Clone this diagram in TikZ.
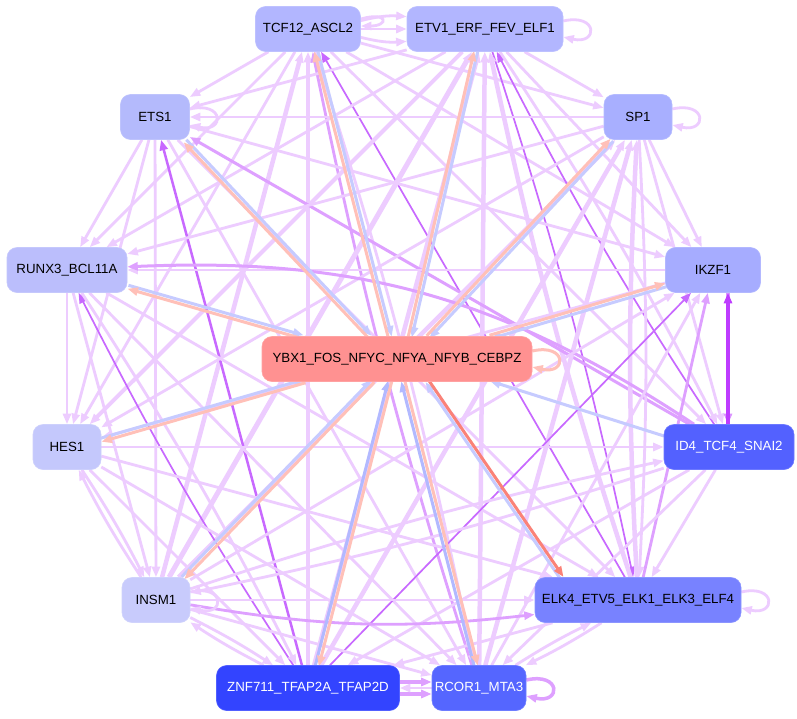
\documentclass[tikz,border=0pt]{standalone}
\usepackage{fontspec}
\setmainfont{Liberation Sans}
\usetikzlibrary{arrows.meta,calc}
\pgfdeclarelayer{bg}
\pgfsetlayers{bg,main}
\definecolor{cT}{RGB}{178,182,255}
\definecolor{cS}{RGB}{180,186,252}
\definecolor{cP}{RGB}{168,175,255}
\definecolor{cR}{RGB}{187,190,252}
\definecolor{cI}{RGB}{166,172,255}
\definecolor{cH}{RGB}{196,200,252}
\definecolor{cD}{RGB}{83,97,255}
\definecolor{cN}{RGB}{200,203,252}
\definecolor{cK}{RGB}{120,130,255}
\definecolor{cZ}{RGB}{51,68,255}
\definecolor{cC}{RGB}{85,102,255}
\definecolor{cY}{RGB}{255,145,145}
\definecolor{cLav}{RGB}{237,204,255}
\definecolor{cPur}{RGB}{222,160,255}
\definecolor{cDPur}{RGB}{200,105,255}
\definecolor{cBright}{RGB}{190,60,255}
\definecolor{cBlu}{RGB}{198,203,255}
\definecolor{cBluD}{RGB}{178,185,255}
\definecolor{cSal}{RGB}{255,192,184}
\definecolor{cRed}{RGB}{250,130,120}
\newcommand\nfont{\fontsize{13.3}{15}\selectfont}
\tikzset{
  box/.style={rounded corners=10pt,minimum height=45pt,inner sep=0pt,line width=0.6pt,font=\nfont},
  tip/.style={-{Triangle[length=10.5pt,width=8pt]}},
  lav/.style={draw=cLav,line width=#1,tip},lav/.default=2.8,
  pur/.style={draw=cPur,line width=#1,tip},pur/.default=2.8,
  dpur/.style={draw=cDPur,line width=#1,tip},dpur/.default=1.7,
  blu/.style={draw=cBlu,line width=#1,tip},blu/.default=3,
  sal/.style={draw=cSal,line width=#1,tip},sal/.default=3,
}
% #1 outer point, #2 point on centre node, #3 salmon colour, #4 blue colour
\newcommand\cpair[4]{%
  \draw[blu,draw=#4] ($(#1)!1.8pt!90:(#2)$) -- ($(#2)!1.8pt!-90:(#1)$);
  \draw[sal,draw=#3] ($(#2)!1.8pt!90:(#1)$) -- ($(#1)!1.8pt!-90:(#2)$);
}
\begin{document}
\begin{tikzpicture}[x=1pt,y=-1pt]
\useasboundingbox (0,0) rectangle (797,718);
\node[box,fill=cT,draw=cT!85!white,minimum width=105pt] (T) at (308,29) {TCF12\_ASCL2};
\node[box,fill=cT,draw=cT!85!white,minimum width=156pt] (E) at (485,29) {ETV1\_ERF\_FEV\_ELF1};
\node[box,fill=cS,draw=cS!85!white,minimum width=69pt] (S) at (155,117) {ETS1};
\node[box,fill=cP,draw=cP!85!white,minimum width=68pt] (P) at (638,117) {SP1};
\node[box,fill=cR,draw=cR!85!white,minimum width=120pt] (R) at (67,270) {RUNX3\_BCL11A};
\node[box,fill=cI,draw=cI!85!white,minimum width=95pt] (I) at (713,270) {IKZF1};
\node[box,fill=cY,draw=cY!85!white,minimum width=270pt] (Y) at (397,359) {YBX1\_FOS\_NFYC\_NFYA\_NFYB\_CEBPZ};
\node[box,fill=cH,draw=cH!85!white,minimum width=68pt] (H) at (67,447) {HES1};
\node[box,fill=cD,draw=cD!85!white,minimum width=130pt,text=white] (D) at (729,447) {ID4\_TCF4\_SNAI2};
\node[box,fill=cN,draw=cN!85!white,minimum width=68pt] (N) at (156,600) {INSM1};
\node[box,fill=cK,draw=cK!85!white,minimum width=206pt] (K) at (638,600) {ELK4\_ETV5\_ELK1\_ELK3\_ELF4};
\node[box,fill=cZ,draw=cZ!85!white,minimum width=183pt,text=white] (Z) at (308,688) {ZNF711\_TFAP2A\_TFAP2D};
\node[box,fill=cC,draw=cC!85!white,minimum width=94pt,text=white] (C) at (479,688) {RCOR1\_MTA3};
% attachment points
\coordinate (aR) at (128,287); \coordinate (yR) at (303,337);
\coordinate (aS) at (185,141); \coordinate (yS) at (370,337);
\coordinate (aT) at (316,51);  \coordinate (yT) at (390,337);
\coordinate (aE) at (476,51);  \coordinate (yE) at (410,337);
\coordinate (aP) at (612,140); \coordinate (yP) at (428,337);
\coordinate (aI) at (666,285); \coordinate (yI) at (490,337);
\coordinate (aH) at (101,440); \coordinate (yH) at (305,381);
\coordinate (aN) at (183,578); \coordinate (yN) at (373,381);
\coordinate (aZ) at (317,666); \coordinate (yZ) at (390,381);
\coordinate (aC) at (476,666); \coordinate (yC) at (403,381);
\coordinate (aK) at (562,578); \coordinate (yK) at (427,381);
\coordinate (aD) at (664,436); \coordinate (yD) at (490,381);
\begin{pgfonlayer}{bg}
\fill[white] (0,0) rectangle (797,718);
% TCF12
\draw[lav] (T) to[bend left=9] (E);
\draw[lav] (T) -- (E);
\draw[lav] (T) to[bend right=9] (E);
\draw[lav] (T) -- (S);
\draw[lav] (T) -- (P);
\draw[lav] (T) -- (R);
\draw[lav] (T) -- (I);
\draw[lav] (T) -- (H);
\draw[lav] (T) -- (D);
\draw[lav=4.5] (N) -- (T);
\draw[dpur] (K) -- (T);
\draw[lav=4.5] (Z) -- (T);
\draw[pur] (C) to[bend left=3] (T);
\draw[lav] (T) to[bend left=3] (C);
% ETV1
\draw[lav] (E) -- (S);
\draw[lav] (E) -- (P);
\draw[lav] (E) -- (R);
\draw[lav] (E) -- (I);
\draw[lav=4] (E) -- (H);
\draw[dpur] (D) to[bend left=3] (E);
\draw[lav] (E) to[bend left=3] (D);
\draw[lav=5] (N) -- (E);
\draw[dpur] (E) to[bend left=3] (K);
\draw[lav=4.5] (K) to[bend left=3] (E);
\draw[lav=4.5] (Z) -- (E);
\draw[lav=4.5] (C) -- (E);
% ETS1
\draw[lav] (P) -- (S);
\draw[lav] (S) -- (R);
\draw[lav] (S) -- (I);
\draw[lav] (S) -- (H);
\draw[pur=3] (D) -- (S);
\draw[lav] (S) -- (N);
\draw[lav] (S) -- (K);
\draw[dpur=2.5] (Z) -- (S);
\draw[lav] (S) -- (C);
% SP1
\draw[lav] (P) -- (R);
\draw[lav] (P) -- (I);
\draw[lav] (P) -- (H);
\draw[lav] (P) -- (D);
\draw[lav=4.5] (N) -- (P);
\draw[lav=4.5] (K) to[bend left=3] (P);
\draw[lav] (P) to[bend left=3] (K);
\draw[lav=4.5] (Z) -- (P);
\draw[lav=4.5] (C) -- (P);
% RUNX3
\draw[lav] (I) -- (R);
\draw[pur=3] (D) to[bend right=18] (R);
\draw[lav] (R) -- (H);
\draw[lav] (R) -- (N);
\draw[lav] (R) -- (K);
\draw[dpur] (Z) to[bend left=3] (R);
\draw[lav] (R) to[bend left=3] (Z);
\draw[lav] (R) -- (C);
% IKZF1
\draw[lav] (I) -- (H);
\draw[draw=cBright!55!white,line width=3.5pt,tip] ([xshift=15]I.south) -- ([xshift=-1]D.north);
\draw[draw=cBright,line width=3.5pt,tip] ([xshift=-1]D.north) -- ([xshift=15]I.south);
\draw[lav] (N) -- (I);
\draw[pur] (K) -- (I);
\draw[dpur] (Z) -- (I);
\draw[lav] (C) -- (I);
% HES1
\draw[lav] (H) -- (D);
\draw[lav] (H) to[bend left=3] (N);
\draw[lav] (N) to[bend left=3] (H);
\draw[lav] (H) -- (K);
\draw[lav] (H) -- (Z);
\draw[lav] (H) -- (C);
% ID4
\draw[lav] (D) to[bend left=3] (N);
\draw[lav] (N) to[bend left=3] (D);
\draw[lav] (D) -- (K);
\draw[lav] (D) -- (Z);
\draw[lav] (D) -- (C);
% INSM1
\draw[lav] (N) -- (K);
\draw[pur] (N) to[bend right=8] (K);
\draw[lav] (N) to[bend left=3] (Z);
\draw[lav] (Z) to[bend left=3] (N);
\draw[lav] (N) -- (C);
% ELK4
\draw[lav] (K) -- (Z);
\draw[lav] (K) to[bend left=3] (C);
\draw[lav] (C) to[bend left=3] (K);
% ZNF711 - RCOR1
\draw[pur=3.5] ([yshift=6]Z.east) -- ([yshift=6]C.west);
\draw[pur=3.5] ([yshift=-6]Z.east) -- ([yshift=-6]C.west);
\draw[lav] (C) -- (Z);
% self loops
\draw[lav] ([yshift=10]T.east) .. controls +(28,-8) and +(28,0) .. ([yshift=3]T.east);
\draw[lav] ([yshift=8]E.east) .. controls +(35,-8) and +(35,8) .. ([yshift=-8]E.east);
\draw[lav] ([yshift=8]S.east) .. controls +(35,-8) and +(35,8) .. ([yshift=-8]S.east);
\draw[lav] ([yshift=8]P.east) .. controls +(35,-8) and +(35,8) .. ([yshift=-8]P.east);
\draw[lav] ([yshift=8]N.east) .. controls +(35,-8) and +(35,8) .. ([yshift=-8]N.east);
\draw[lav] ([yshift=8]K.east) .. controls +(35,-8) and +(35,8) .. ([yshift=-8]K.east);
\draw[pur=3.5] ([yshift=8]C.east) .. controls +(35,-8) and +(35,8) .. ([yshift=-8]C.east);
\draw[sal] ([yshift=8]Y.east) .. controls +(35,-8) and +(35,8) .. ([yshift=-8]Y.east);
% centre node connections
\cpair{aR}{yR}{cSal}{cBlu}
\cpair{aS}{yS}{cSal}{cBlu}
\cpair{aT}{yT}{cSal}{cBlu}
\cpair{aE}{yE}{cSal}{cBlu}
\cpair{aP}{yP}{cSal}{cBlu}
\cpair{aI}{yI}{cSal}{cBlu}
\cpair{aH}{yH}{cSal}{cBlu}
\cpair{aN}{yN}{cSal}{cBlu}
\cpair{aZ}{yZ}{cSal}{cBluD}
\cpair{aC}{yC}{cSal}{cBluD}
\cpair{aK}{yK}{cRed}{cBlu}
\draw[blu] (aD) -- (yD);
\end{pgfonlayer}
\end{tikzpicture}
\end{document}
